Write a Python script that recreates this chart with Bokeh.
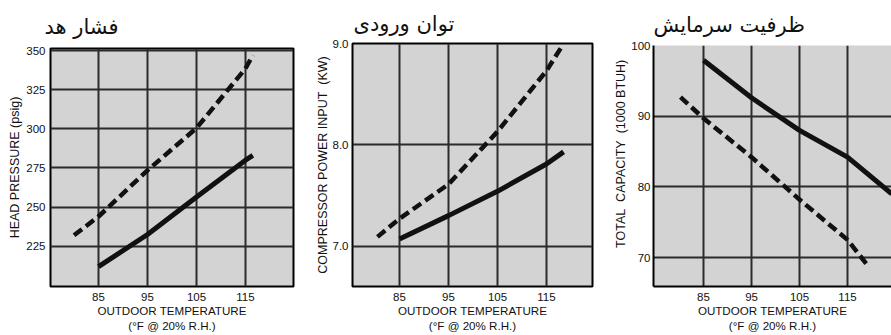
from bokeh.plotting import figure
from bokeh.layouts import row, column
from bokeh.models import Range1d, FixedTicker, Title
from bokeh.embed import file_html
from bokeh.resources import INLINE

# ---------------- data ----------------
x_ticks = [85, 95, 105, 115]

NB = "\u00a0"
titles = ["فشار هد", "توان ورودی", "ظرفیت سرمایش"]
y_labels = ["HEAD PRESSURE (psig)",
            "COMPRESSOR POWER INPUT" + NB + " (KW)",
            NB * 7 + "TOTAL" + NB + " CAPACITY" + NB + " (1000 BTUH)"]
x_label = "OUTDOOR TEMPERATURE\n(°F @ 20% R.H.)"

# Head pressure
head_ticks = [225, 250, 275, 300, 325, 350]
head_temp_dash = [80, 85, 95, 105, 115, 116.5]
head_dash = [232, 244, 273.5, 300.5, 338.5, 347]
head_temp_solid = [85, 95, 105, 115, 116.5]
head_solid = [212, 232.5, 256.5, 280, 283]

# Compressor power input
power_ticks = [7.0, 8.0, 9.0]
power_tick_labels = {7.0: "7.0", 8.0: "8.0", 9.0: "9.0"}
power_temp_dash = [80.5, 85, 95, 105, 115, 118]
power_dash = [7.09, 7.27, 7.61, 8.13, 8.73, 8.96]
power_temp_solid = [85, 95, 105, 115, 118.5]
power_solid = [7.07, 7.30, 7.54, 7.81, 7.93]

# Total capacity
cap_ticks = [70, 80, 90, 100]
cap_temp_dash = [80.2, 85, 95, 105, 115, 119.4]
cap_dash = [92.7, 89.7, 84.2, 78.2, 72.5, 68.7]
cap_temp_solid = [85, 95, 105, 115, 124.2]
cap_solid = [97.9, 92.6, 88.0, 84.2, 79.0]

FONT = "Liberation Sans"
TFONT = "DejaVu Sans"
BG = "#d3d3d3"
GRID = "#2b2b2b"
INK = "#111111"


def make_panel(width, borders, xr, yr, yticks, title, title_offset, title_standoff,
               ylabel, ylab_standoff, ytick_standoff, outline=True):
    left, right, top, bottom = borders
    p = figure(width=width, height=335, output_backend="svg", toolbar_location=None,
               x_range=Range1d(*xr), y_range=Range1d(*yr),
               min_border_left=left, min_border_right=right,
               min_border_top=top, min_border_bottom=bottom)
    p.background_fill_color = BG
    p.border_fill_color = "white"
    if outline:
        p.outline_line_color = "black"
        p.outline_line_width = 2
    else:
        p.outline_line_color = None
    for ax in (p.xaxis, p.yaxis):
        ax.major_tick_in = 0
        ax.major_tick_out = 0
        ax.minor_tick_in = 0
        ax.minor_tick_out = 0
        ax.major_label_text_font = FONT
        ax.major_label_text_font_size = "11.5px"
        ax.major_label_text_color = INK
        ax.axis_label_text_font = FONT
        ax.axis_label_text_font_style = "normal"
        ax.axis_label_text_color = INK
        if outline:
            ax.axis_line_color = None
        else:
            ax.axis_line_color = "black"
            ax.axis_line_width = 2
    p.xaxis.axis_label_text_font_size = "11.6px"
    p.yaxis.axis_label_text_font_size = "12.5px"
    p.xaxis.ticker = FixedTicker(ticks=x_ticks)
    p.yaxis.ticker = FixedTicker(ticks=yticks)
    p.xaxis.axis_label = x_label
    p.xaxis.major_label_standoff = 6
    p.xaxis.axis_label_standoff = 0
    p.yaxis.axis_label = ylabel
    p.yaxis.axis_label_standoff = ylab_standoff
    p.yaxis.major_label_standoff = ytick_standoff
    p.xgrid.ticker = FixedTicker(ticks=x_ticks)
    p.ygrid.ticker = FixedTicker(ticks=yticks)
    for g in (p.xgrid, p.ygrid):
        g.grid_line_color = GRID
        g.grid_line_width = 2
        g.grid_line_alpha = 1.0
    p.add_layout(Title(text=title, align="left", text_font=TFONT,
                       text_font_size="21px", text_font_style="normal",
                       text_color=INK, offset=title_offset,
                       standoff=title_standoff), "above")
    return p


p1 = make_panel(300, (50, 7, 48, 45), (75.2, 124.8), (199.3, 351.3), head_ticks,
                titles[0], -6, 20, y_labels[0], 1, 5)
p1.line(head_temp_dash, head_dash, line_color=INK, line_width=4.5, line_dash="10 5")
p1.line(head_temp_solid, head_solid, line_color=INK, line_width=5)

p2 = make_panel(300, (52, 8, 43, 47), (75.4, 124.4), (6.6, 9.0), power_ticks,
                titles[1], 1, 16, y_labels[1], 0, 4)
p2.yaxis.major_label_overrides = power_tick_labels
p2.line(power_temp_dash, power_dash, line_color=INK, line_width=4.5, line_dash="10 5")
p2.line(power_temp_solid, power_solid, line_color=INK, line_width=5)

p3 = make_panel(291, (53, 0, 45, 49), (74.58, 124.16), (65.9, 100.0), cap_ticks,
                titles[2], 0, 18, y_labels[2], 0, 3, outline=False)
p3.line(cap_temp_dash, cap_dash, line_color=INK, line_width=4.5, line_dash="10 5")
p3.line(cap_temp_solid, cap_solid, line_color=INK, line_width=5)

layout = row(column(p1), column(p2), column(p3))
open("out.html", "w").write(file_html(layout, INLINE))
